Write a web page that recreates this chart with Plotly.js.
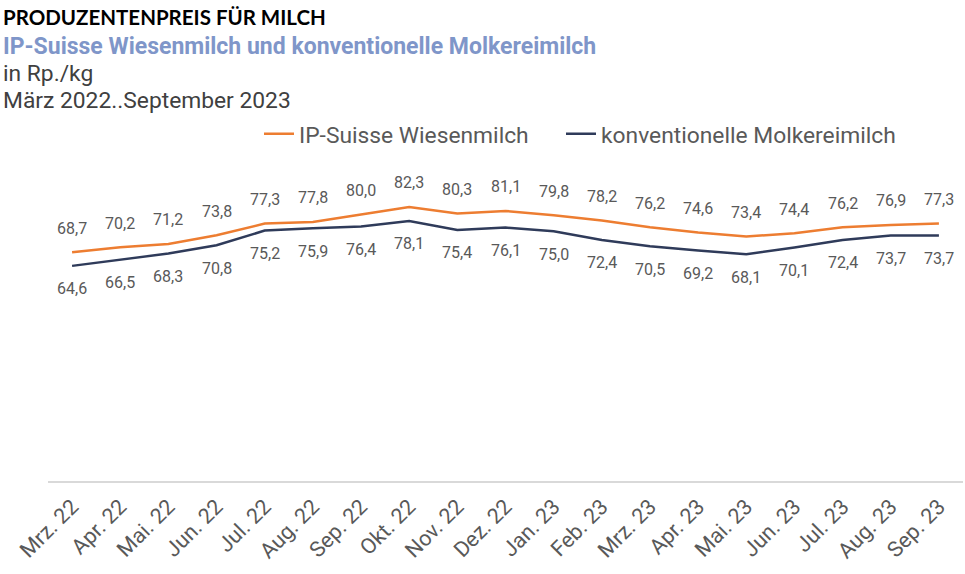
<!DOCTYPE html>
<html>
<head>
<meta charset="utf-8">
<script src="https://cdn.plot.ly/plotly-3.0.1.min.js"></script>
<style>html,body{margin:0;padding:0;background:#fff;}#chart{width:965px;height:574px;}</style>
</head>
<body>
<div id="chart"></div>
<script>
const months = ["Mrz. 22","Apr. 22","Mai. 22","Jun. 22","Jul. 22","Aug. 22","Sep. 22","Okt. 22","Nov. 22","Dez. 22","Jan. 23","Feb. 23","Mrz. 23","Apr. 23","Mai. 23","Jun. 23","Jul. 23","Aug. 23","Sep. 23"];
const ipSuisse = [68.7,70.2,71.2,73.8,77.3,77.8,80.0,82.3,80.3,81.1,79.8,78.2,76.2,74.6,73.4,74.4,76.2,76.9,77.3];
const konventionell = [64.6,66.5,68.3,70.8,75.2,75.9,76.4,78.1,75.4,76.1,75.0,72.4,70.5,69.2,68.1,70.1,72.4,73.7,73.7];
const seriesNames = ["IP-Suisse Wiesenmilch","konventionelle Molkereimilch"];

const ORANGE = "#ED7D31", NAVY = "#2F3B5A", GRAY = "#595959";
const fmt = v => v.toFixed(1).replace(".", ",");

const traces = [
  {x: months, y: ipSuisse, name: seriesNames[0], type: "scatter", mode: "lines",
   line: {color: ORANGE, width: 2.5}, hoverinfo: "skip", legend: "legend"},
  {x: months, y: konventionell, name: seriesNames[1], type: "scatter", mode: "lines",
   line: {color: NAVY, width: 2.5}, hoverinfo: "skip", legend: "legend2"}
];

const labelFont = {family: "Roboto", size: 16, color: GRAY};
const annotations = [];
months.forEach((m, i) => {
  annotations.push({x: m, y: ipSuisse[i], xref: "x", yref: "y", text: fmt(ipSuisse[i]),
    showarrow: false, yshift: 24, font: labelFont});
  annotations.push({x: m, y: konventionell[i], xref: "x", yref: "y", text: fmt(konventionell[i]),
    showarrow: false, yshift: -23, font: labelFont});
});

const py = p => (481 - p) / 333;
const pxx = p => (p - 48) / 915;
const px = pxx(1);
annotations.push(
  {xref: "paper", yref: "paper", x: px, y: py(17), xanchor: "left", yanchor: "middle", showarrow: false,
   text: "<b>PRODUZENTENPREIS FÜR MILCH</b>", font: {family: "Lato", size: 20.5, color: "#000"}},
  {xref: "paper", yref: "paper", x: px, y: py(46), xanchor: "left", yanchor: "middle", showarrow: false,
   text: "<b>IP-Suisse Wiesenmilch und konventionelle Molkereimilch</b>", font: {family: "Roboto", size: 23, color: "#7F96C9"}},
  {xref: "paper", yref: "paper", x: px, y: py(73), xanchor: "left", yanchor: "middle", showarrow: false,
   text: "in Rp./kg", font: {family: "Roboto", size: 22.8, color: "#404040"}},
  {xref: "paper", yref: "paper", x: px, y: py(101), xanchor: "left", yanchor: "middle", showarrow: false,
   text: "März 2022..September 2023", font: {family: "Roboto", size: 22.8, color: "#404040"}}
);

const legendFont = {family: "Roboto", size: 22.8, color: GRAY};
const layout = {
  width: 965, height: 574,
  margin: {l: 48, r: 2, t: 148, b: 93},
  paper_bgcolor: "#fff", plot_bgcolor: "#fff",
  showlegend: true,
  legend: {orientation: "h", x: pxx(259), xanchor: "left", y: py(134), yanchor: "middle",
    font: legendFont, bgcolor: "rgba(0,0,0,0)"},
  legend2: {orientation: "h", x: pxx(561), xanchor: "left", y: py(134), yanchor: "middle",
    font: legendFont, bgcolor: "rgba(0,0,0,0)"},
  xaxis: {type: "category", range: [-0.5, 18.5], showgrid: false, zeroline: false,
    showline: true, linecolor: "#D9D9D9", linewidth: 1.5, ticks: "",
    tickangle: -45, tickfont: {family: "Roboto", size: 21.5, color: GRAY}, fixedrange: true,
    ticklabelstandoff: 3, automargin: false},
  yaxis: {range: [0, 100], visible: false, showgrid: false, zeroline: false, fixedrange: true},
  annotations: annotations
};

Plotly.newPlot("chart", traces, layout, {displayModeBar: false, staticPlot: true});
</script>
</body>
</html>
